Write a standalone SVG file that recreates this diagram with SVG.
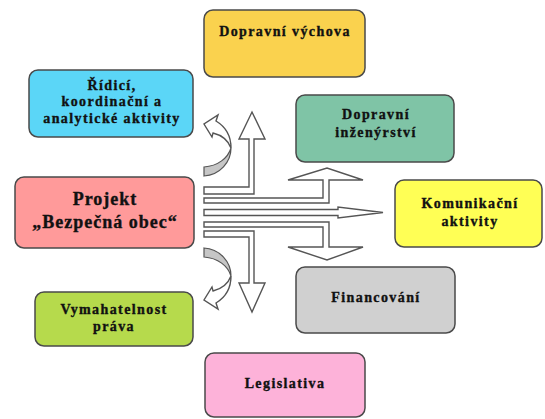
<svg xmlns="http://www.w3.org/2000/svg" width="545" height="419" viewBox="0 0 545 419">
<style>
.box{stroke:#4a4a4a;stroke-width:1.5}
.t{font-family:"Liberation Serif","Times New Roman",serif;font-weight:bold;font-size:14px;letter-spacing:1.4px;fill:#111;stroke:#111;stroke-width:0.35;text-anchor:middle}
.big{font-size:18px;letter-spacing:1px}
.arr{fill:#fff;stroke:#555;stroke-width:1.4;stroke-linejoin:miter}
.gr{fill:#c6c6c6;stroke:#555;stroke-width:1.2}
</style>
<rect width="545" height="419" fill="#fff"/>
<g id="dopravni-vychova">
<rect class="box" x="204" y="10" width="161" height="67" rx="9" fill="#fad24e"/>
<text class="t" x="285" y="36">Dopravní výchova</text>
</g>
<g id="ridici">
<rect class="box" x="29" y="70" width="164" height="67" rx="9" fill="#5bd6f7"/>
<text class="t" x="112" y="90">Řídicí,</text>
<text class="t" x="112" y="106">koordinační a</text>
<text class="t" x="112" y="123">analytické aktivity</text>
</g>
<g id="projekt">
<rect class="box" x="15" y="177" width="179" height="71" rx="9" fill="#ff9a9a"/>
<text class="t big" x="105" y="205">Projekt</text>
<text class="t big" x="105" y="228">„Bezpečná obec“</text>
</g>
<g id="vymahatelnost">
<rect class="box" x="35" y="292" width="158" height="54" rx="9" fill="#b6da4c"/>
<text class="t" x="114" y="314">Vymahatelnost</text>
<text class="t" x="114" y="331">práva</text>
</g>
<g id="dopravni-inzenyrstvi">
<rect class="box" x="296" y="95" width="158" height="67" rx="9" fill="#7fc4a6"/>
<text class="t" x="376" y="119">Dopravní</text>
<text class="t" x="376" y="137">inženýrství</text>
</g>
<g id="komunikacni">
<rect class="box" x="395" y="180" width="147" height="67" rx="9" fill="#ffff55"/>
<text class="t" x="470" y="208">Komunikační</text>
<text class="t" x="470" y="226">aktivity</text>
</g>
<g id="financovani">
<rect class="box" x="296" y="267" width="159" height="66" rx="9" fill="#d0d0d0"/>
<text class="t" x="376" y="302">Financování</text>
</g>
<g id="legislativa">
<rect class="box" x="205" y="353" width="160" height="64" rx="9" fill="#fdb2d9"/>
<text class="t" x="285" y="388">Legislativa</text>
</g>
<g id="connectors">
<polygon class="arr" points="204,187 249,187 249,139 239,139 252,112 265,139 254,139 254,194 204,194"/>
<polygon class="arr" points="204,198 323,198 323,180 288,180 327,168 363,180 329,180 329,203 204,203"/>
<polygon class="arr" points="204,209.5 338,209.5 338,207 383,212.5 338,218 338,215.5 204,215.5"/>
<polygon class="arr" points="204,222 329,222 329,247 363,247 327,260 288,247 323,247 323,227 204,227"/>
<polygon class="arr" points="204,231 254,231 254,283 265,283 252,312 239,283 249,283 249,237 204,237"/>
<g id="curve-up">
<path class="gr" d="M204,167 C218,166 228,158 231,148 C231,162 220,175 204,176 Z"/>
<path class="arr" d="M231,148 C231,137 226,127 216,121 L218,115 L204,124 L212,137 L213,133 C221,135 228,140 231,148 Z"/>
</g>
<g id="curve-down" transform="translate(0,424) scale(1,-1)">
<path class="gr" d="M204,167 C218,166 228,158 231,148 C231,162 220,175 204,176 Z"/>
<path class="arr" d="M231,148 C231,137 226,127 216,121 L218,115 L204,124 L212,137 L213,133 C221,135 228,140 231,148 Z"/>
</g>
</g>
</svg>
